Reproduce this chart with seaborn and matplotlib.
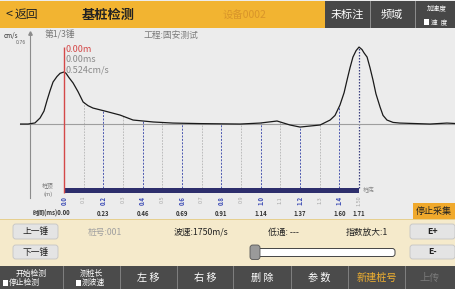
import numpy as np
import pandas as pd
import matplotlib
matplotlib.use("Agg")
import matplotlib.pyplot as plt
from matplotlib.patches import Rectangle, FancyBboxPatch
import seaborn as sns

# ---------------- data ----------------
depth_m = [-0.224, -0.183, -0.148, -0.122, -0.102, -0.086, -0.071, -0.056, -0.036, -0.020,
           0.000, 0.010, 0.025, 0.046, 0.071, 0.097, 0.122, 0.147, 0.208, 0.285,
           0.351, 0.453, 0.554, 0.692, 0.895, 0.997, 1.083, 1.149, 1.200, 1.302,
           1.353, 1.378, 1.403, 1.424, 1.439, 1.454, 1.469, 1.485, 1.500, 1.515,
           1.525, 1.541, 1.556, 1.571, 1.586, 1.607, 1.622, 1.642, 1.673, 1.708,
           1.861, 1.947, 1.988]
velocity = [0.000, 0.000, 0.010, 0.056, 0.120, 0.222, 0.310, 0.389, 0.440, 0.470,
            0.482, 0.470, 0.430, 0.380, 0.300, 0.204, 0.170, 0.148, 0.120, 0.083,
            0.037, 0.019, 0.009, 0.004, 0.000, 0.009, 0.028, -0.009, -0.028, -0.009,
            0.037, 0.080, 0.176, 0.290, 0.407, 0.520, 0.620, 0.680, 0.713, 0.690,
            0.660, 0.620, 0.520, 0.407, 0.280, 0.157, 0.080, 0.037, 0.015, 0.009,
            0.000, 0.009, 0.005]

depth_ticks = [0.0, 0.1, 0.2, 0.3, 0.4, 0.5, 0.6, 0.7, 0.8, 0.9, 1.0, 1.1, 1.2, 1.3, 1.4, 1.5]
depth_labels = ["0.0", "0.1", "0.2", "0.3", "0.4", "0.5", "0.6", "0.7", "0.8", "0.9",
                "1.0", "1.1", "1.2", "1.3", "1.4", "1.50"]
time_depths = [0.2, 0.4, 0.6, 0.8, 1.0, 1.2, 1.4, 1.5]
time_labels = ["0.23", "0.46", "0.69", "0.91", "1.14", "1.37", "1.60", "1.71"]
pile_length = 1.5
y_tick = 0.76

# ---------------- figure ----------------
W, H = 455, 289
sns.set_theme(style="white")
plt.rcParams["font.family"] = ["Noto Sans CJK SC", "DejaVu Sans"]
fig = plt.figure(figsize=(W / 100, H / 100), dpi=100)
fig.patch.set_facecolor("#ECECEC")


def rect(x0, y0, x1, y1, fc, ec="none", lw=0, rounded=False, z=1):
    if rounded:
        p = FancyBboxPatch((x0 / W, 1 - y1 / H), (x1 - x0) / W, (y1 - y0) / H,
                           boxstyle="round,pad=0,rounding_size=0.006",
                           mutation_aspect=W / H,
                           transform=fig.transFigure, figure=fig,
                           facecolor=fc, edgecolor=ec, linewidth=lw, zorder=z)
    else:
        p = Rectangle((x0 / W, 1 - y1 / H), (x1 - x0) / W, (y1 - y0) / H,
                      transform=fig.transFigure, figure=fig,
                      facecolor=fc, edgecolor=ec, linewidth=lw, zorder=z)
    fig.patches.append(p)


def txt(x, y, s, size, color="#222222", ha="center", va="center", weight="normal"):
    fig.text(x / W, 1 - y / H, s, fontsize=size, color=color, ha=ha, va=va,
             fontweight=weight, zorder=5)


# ---------------- top bar ----------------
rect(0, 1, 325, 28, "#F2B431")
rect(325, 1, 455, 28, "#474747")
for xs in (370, 415):
    rect(xs - 0.5, 1, xs + 0.5, 28, "#8A8A8A", z=2)
txt(5, 14.5, "<", 9, "#222222", ha="left")
txt(15, 14.5, "返回", 8.5, "#222222", ha="left")
txt(108, 14.5, "基桩检测", 9.5, "#222222", weight="bold")
txt(245, 14.5, "设备0002", 7.5, "#D9952A")
txt(347, 14.5, "未标注", 8, "white")
txt(392, 14.5, "频域", 8, "white")
txt(437, 8.5, "加速度", 4.8, "white")
rect(424, 19.5, 429, 24.5, "white", z=3)
txt(431, 22, "速  度", 4.8, "white", ha="left")

# ---------------- chart area ----------------
ax_x0, ax_x1, ax_y0, ax_y1 = 20, 455, 33, 198
ax = fig.add_axes([ax_x0 / W, 1 - ax_y1 / H, (ax_x1 - ax_x0) / W, (ax_y1 - ax_y0) / H])
ax.set_facecolor("none")
ax.set_xlim(-0.224, 1.988)
ax.set_ylim(-0.685, 0.843)

df = pd.DataFrame({"depth": depth_m, "v": velocity})
sns.lineplot(data=df, x="depth", y="v", ax=ax, color="#1A1A1A", linewidth=0.9,
             estimator=None, sort=False, zorder=4)

for s in ("top", "right"):
    ax.spines[s].set_visible(False)
ax.spines["bottom"].set_position(("data", 0))
ax.spines["bottom"].set_color("#9E9E9E")
ax.spines["bottom"].set_linewidth(0.8)
ax.spines["left"].set_position(("data", -0.173))
ax.spines["left"].set_color("#8C8C8C")
ax.spines["left"].set_linewidth(0.8)
ax.set_xticks([])
ax.set_yticks([y_tick])
ax.set_yticklabels([f"{y_tick:.2f}"], fontsize=3.8, color="#444444")
ax.tick_params(axis="y", length=2, width=0.5, pad=1, colors="#666666")
ax.set_xlabel("")
ax.set_ylabel("")
ax.plot(-0.173, 1, marker="^", markersize=2.5, color="#8C8C8C",
        transform=ax.get_xaxis_transform(), clip_on=False)

bar_top, bar_bot = -0.593, -0.639
curve_at = np.interp(depth_ticks, depth_m, velocity)
for d, cv, lab in zip(depth_ticks, curve_at, depth_labels):
    i = int(round(d * 10))
    if d == 0.0:
        continue
    if d == pile_length:
        col, ls, lw = "#3B4080", (0, (1.2, 1.2)), 0.9
    elif i % 2 == 0:
        col, ls, lw = "#4A57B0", (0, (2, 1.5)), 0.7
    else:
        col, ls, lw = "#B4B4B4", (0, (2, 1.5)), 0.6
    ax.vlines(d, bar_top, cv, colors=col, linestyles=[ls], linewidth=lw, zorder=2)

# red cursor
ax.vlines(0.0, bar_bot, 0.71, colors="#D44848", linewidth=1.0, zorder=5)
# pile bar
ax.add_patch(Rectangle((0.0, bar_bot), pile_length, bar_top - bar_bot,
                       facecolor="#2D2E6C", edgecolor="none", zorder=3))

for d, lab in zip(depth_ticks, depth_labels):
    i = int(round(d * 10))
    even = (i % 2 == 0)
    ax.text(d, -0.665, lab, rotation=90, fontsize=4.3 if even else 4.0,
            color="#3A4AB5" if even else "#A8A8A8",
            fontweight="bold" if even else "normal",
            ha="center", va="top", clip_on=False)

ax.text(-0.081, -0.573, "桩顶", fontsize=4.2, color="#777777", ha="center", va="center")
ax.text(-0.081, -0.648, "(m)", fontsize=4.2, color="#777777", ha="center", va="center")
ax.text(1.52, -0.612, "桩底", fontsize=4.2, color="#888888", ha="left", va="center")

txt(33, 213, "时间(ms)0.00", 4.3, "#333333", ha="left", weight="bold")
for d, lab in zip(time_depths, time_labels):
    xp = 64 + d * 196.67
    txt(xp, 213, lab, 4.3, "#333333", weight="bold")

# cursor readout
txt(66, 50, "0.00m", 6.5, "#D44848", ha="left")
txt(66, 60, "0.00ms", 6.5, "#8A8A8A", ha="left")
txt(66, 70, "0.524cm/s", 6.5, "#8A8A8A", ha="left")

txt(4, 36, "cm/s", 4.5, "#333333", ha="left")
txt(45, 35, "第1/3锤", 6.3, "#7A7A7A", ha="left")
txt(144, 35, "工程:固安测试", 6.3, "#7A7A7A", ha="left")

# stop button
rect(413, 203, 455, 219, "#F0A92C")
txt(434, 211, "停止采集", 6.5, "#222222")

# ---------------- info panel ----------------
rect(0, 219, 455, 266, "#F5EACB")
rect(0, 219, 455, 220, "#E6CF8F", z=2)
for (x0, y0, x1, y1, s) in [(13, 224, 58, 239, "上一锤"), (13, 245, 58, 259, "下一锤"),
                            (410, 224, 455, 239, "E+"), (410, 245, 455, 259, "E-")]:
    rect(x0, y0, x1, y1, "#E4E4E4", ec="#C4C4C4", lw=0.6, rounded=True, z=2)
    txt((x0 + x1) / 2, (y0 + y1) / 2, s, 6.3, "#222222",
        weight="bold" if s.startswith("E") else "normal")
txt(105, 232, "桩号:001", 6.3, "#A0A0A0")
txt(201, 232, "波速:1750m/s", 6.3, "#222222")
txt(283, 232, "低通: ---", 6.3, "#222222")
txt(367, 232, "指数放大:1", 6.3, "#222222")
# slider
rect(252, 248.5, 395, 256.5, "white", ec="#444444", lw=0.7, rounded=True, z=2)
rect(250, 245, 260, 259.5, "#9A9A9A", ec="#555555", lw=0.6, rounded=True, z=3)

# ---------------- bottom bar ----------------
rect(0, 266, 455, 289, "#4B4B4B")
cells = [0, 63, 120, 177, 234, 291, 348, 405, 455]
for xs in cells[1:-1]:
    rect(xs - 0.5, 266, xs + 0.5, 289, "#7E7E7E", z=2)
txt(31, 273.5, "开始检测", 5.6, "white")
rect(3, 280, 8, 285.5, "white", z=3)
txt(9, 283, "停止检测", 5.6, "white", ha="left")
txt(91, 273.5, "测桩长", 5.6, "white")
rect(76, 280, 81, 285.5, "white", z=3)
txt(82, 283, "测波速", 5.6, "white", ha="left")
labels_bottom = ["左 移", "右 移", "删 除", "参 数", "新建桩号", "上传"]
colors_bottom = ["white", "white", "white", "white", "#F0B030", "#7A7A7A"]
for k, (s, c) in enumerate(zip(labels_bottom, colors_bottom)):
    txt((cells[k + 2] + cells[k + 3]) / 2, 278, s, 7.3, c)

fig.savefig("out.png", dpi=100, facecolor=fig.get_facecolor())
